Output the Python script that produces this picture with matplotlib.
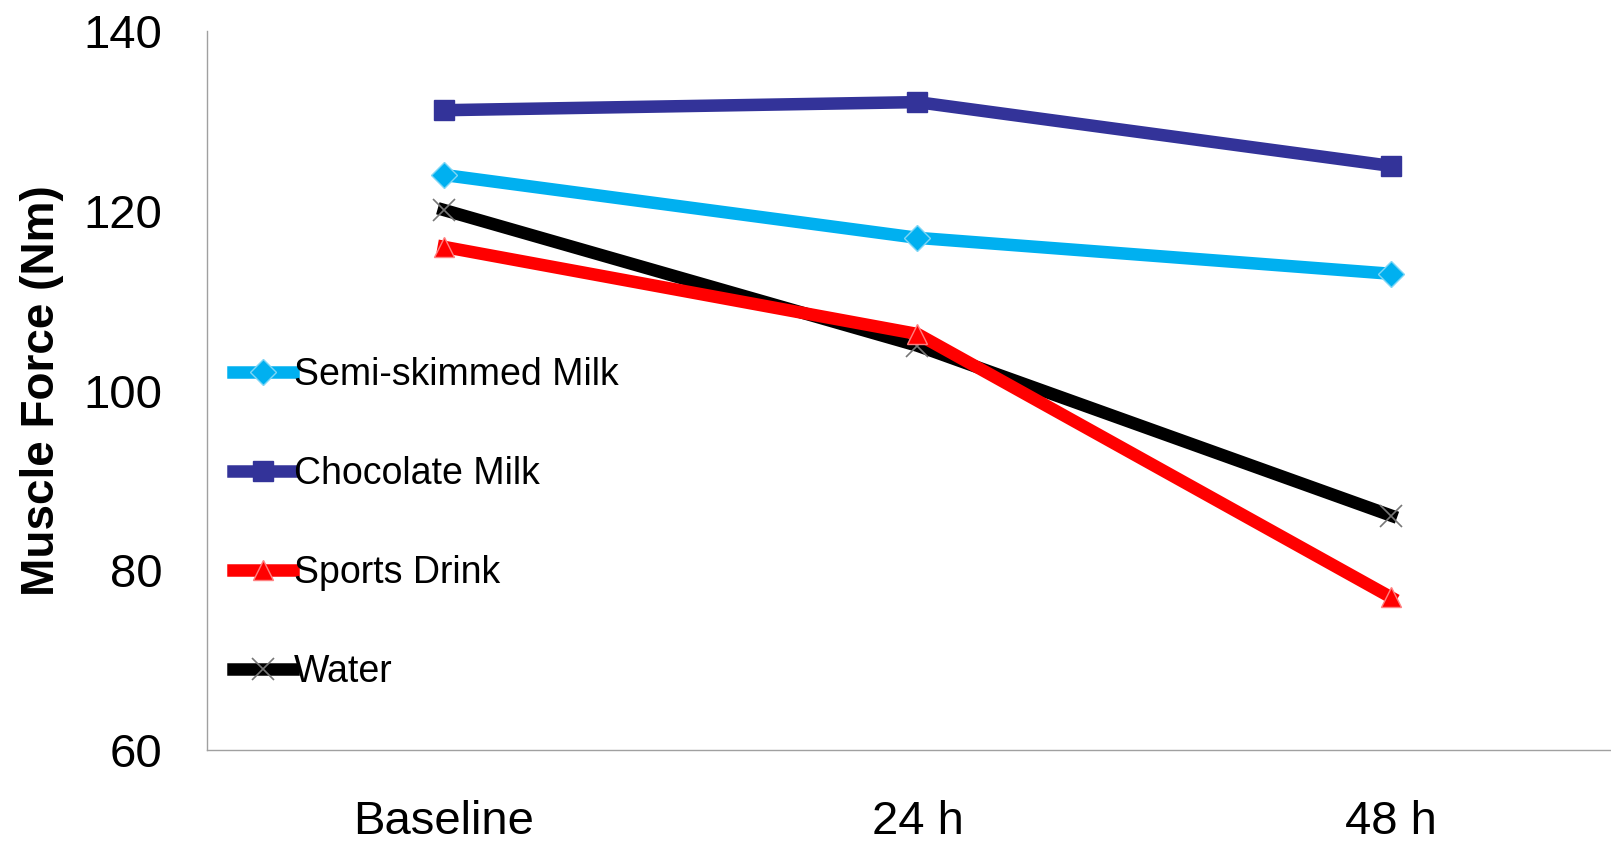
import matplotlib.pyplot as plt

# muscle force over recovery time, per drink
timepoints = ['Baseline', '24 h', '48 h']
semi_skimmed = [124, 117, 113]
chocolate = [131.2, 132.1, 125]
sports_drink = [116, 106.3, 77]
water = [120.1, 105, 86.1]

plt.rcParams['font.family'] = ['Liberation Sans', 'DejaVu Sans']

fig = plt.figure(figsize=(16.11, 8.41), dpi=100)
ax = fig.add_axes([0.1285, 0.108, 0.882, 0.855])

x = range(len(timepoints))
lw = 9
ax.plot(x, semi_skimmed, color='#00b0f0', lw=lw, marker='D', ms=13,
        mec='#7fd6f5', mew=1, label='Semi-skimmed Milk', zorder=3)
ax.plot(x, chocolate, color='#333399', lw=lw, marker='s', ms=14,
        label='Chocolate Milk', zorder=3)
ax.plot(x, sports_drink, color='#ff0000', lw=lw, marker='^', ms=15,
        mec='#ff8080', mew=1, label='Sports Drink', zorder=4)
ax.plot(x, water, color='black', lw=lw, marker='x', ms=16,
        mec='#777777', mew=1.2, label='Water', zorder=3)

ax.set_xlim(-0.5, 2.5)
ax.set_ylim(60, 140)
ax.set_yticks([60, 80, 100, 120, 140])
ax.set_xticks(list(x))
ax.set_xticklabels(timepoints)
ax.tick_params(axis='both', length=0, labelsize=34)
ax.tick_params(axis='y', pad=32)
ax.tick_params(axis='x', pad=36)

for side in ['top', 'right']:
    ax.spines[side].set_visible(False)
for side in ['left', 'bottom']:
    ax.spines[side].set_color('#a0a0a0')
    ax.spines[side].set_linewidth(1)

ax.set_ylabel('Muscle Force (Nm)', fontsize=33, fontweight='bold')
ax.yaxis.set_label_coords(-0.101, 0.5)

ax.legend(loc='center left', bbox_to_anchor=(0.0, 0.315), frameon=False,
          fontsize=27, handlelength=1.6, handletextpad=0.02,
          labelspacing=1.68, borderaxespad=0.3)

fig.savefig('out.png', dpi=100)
